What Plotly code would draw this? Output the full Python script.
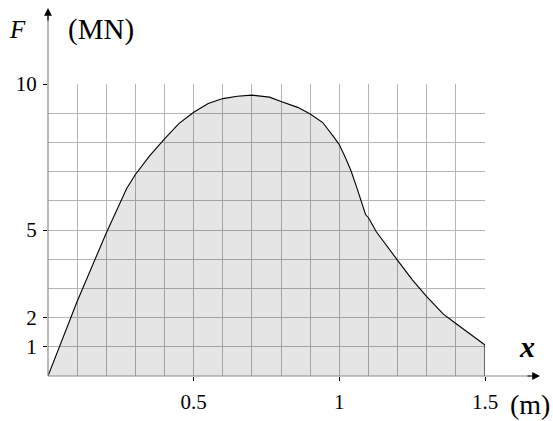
import plotly.graph_objects as go

# Data (x in m, F in MN)
x_m = [0, 0.1, 0.2, 0.24, 0.27, 0.3, 0.348, 0.4, 0.45, 0.5, 0.55, 0.6, 0.65, 0.7,
       0.76, 0.8, 0.857, 0.9, 0.943, 0.982, 1.0, 1.02, 1.04, 1.06, 1.073, 1.09,
       1.1, 1.127, 1.2, 1.25, 1.3, 1.357, 1.4, 1.45, 1.5, 1.5]
F_MN = [0, 2.55, 4.9, 5.8, 6.42, 6.9, 7.53, 8.12, 8.65, 9.03, 9.33, 9.5, 9.58, 9.62,
        9.55, 9.4, 9.2, 8.97, 8.68, 8.17, 7.92, 7.5, 7.03, 6.45, 6.02, 5.53,
        5.42, 4.94, 3.96, 3.3, 2.72, 2.12, 1.8, 1.43, 1.06, 0]

x_tickvals = [0.5, 1, 1.5]
x_ticktext = ["0.5", "1", "1.5"]
y_tickvals = [1, 2, 5, 10]
y_ticktext = ["1", "2", "5", "10"]

FONT = "Liberation Serif"
GRID = "#b4b4b4"
AXIS = "#8a8a8a"

fig = go.Figure()
fig.add_trace(go.Scatter(
    x=x_m, y=F_MN, mode="lines", fill="tozeroy",
    fillcolor="rgba(0,0,0,0.1)",
    line=dict(color="black", width=1.1),
    hoverinfo="skip", showlegend=False,
))

fig.update_layout(
    width=553, height=421,
    margin=dict(l=48, r=68, t=84, b=45, autoexpand=False),
    paper_bgcolor="white", plot_bgcolor="white",
    font=dict(family=FONT, color="black", size=21),
    xaxis=dict(
        range=[0, 1.5], tickvals=x_tickvals, ticktext=x_ticktext,
        ticks="outside", ticklen=4, tickcolor="black", tickwidth=1,
        ticklabelstandoff=3, automargin=False,
        showgrid=True, gridcolor=GRID, gridwidth=1,
        minor=dict(dtick=0.1, showgrid=True, gridcolor=GRID, gridwidth=1, ticks=""),
        zeroline=False, showline=False, fixedrange=True,
        tickfont=dict(family=FONT, size=21),
    ),
    yaxis=dict(
        range=[0, 10], tickvals=y_tickvals, ticktext=y_ticktext,
        ticks="outside", ticklen=4, tickcolor="black", tickwidth=1,
        ticklabelstandoff=2, automargin=False,
        showgrid=True, gridcolor=GRID, gridwidth=1,
        minor=dict(dtick=1, showgrid=True, gridcolor=GRID, gridwidth=1, ticks=""),
        zeroline=False, showline=False, fixedrange=True,
        tickfont=dict(family=FONT, size=21),
    ),
)

# axis lines with arrows (paper coordinates, extending beyond plot area)
x_tip = (540 - 48) / 437.0
y_tip = (376 - 8) / 292.0
fig.add_shape(type="line", xref="paper", yref="paper", x0=0, y0=0, x1=x_tip - 0.02, y1=0,
              line=dict(color=AXIS, width=1.2))
fig.add_shape(type="line", xref="paper", yref="paper", x0=0, y0=0, x1=0, y1=y_tip - 0.03,
              line=dict(color=AXIS, width=1.2))
fig.add_annotation(xref="paper", yref="paper", x=x_tip, y=0, ax=-14, ay=0,
                   text="", showarrow=True, arrowhead=2, arrowsize=1.3,
                   arrowwidth=1.2, arrowcolor="black", standoff=0)
fig.add_annotation(xref="paper", yref="paper", x=0, y=y_tip, ax=0, ay=14,
                   text="", showarrow=True, arrowhead=2, arrowsize=1.3,
                   arrowwidth=1.2, arrowcolor="black", standoff=0)

# axis titles
def px_to_paper(px, py):
    return (px - 48) / 437.0, (376 - py) / 292.0

for txt, (px, py), size in [
    ("<i>F</i>", (17, 29), 25),
    ("(MN)", (101, 30), 29),
    ("<b><i>x</i></b>", (527, 346), 30),
    ("(m)", (530, 404), 28),
]:
    xp, yp = px_to_paper(px, py)
    fig.add_annotation(xref="paper", yref="paper", x=xp, y=yp, text=txt,
                       showarrow=False, xanchor="center", yanchor="middle",
                       font=dict(family=FONT, size=size, color="black"))

fig.write_html("out.html", config={"displayModeBar": False},
               post_script="document.body.style.margin='0';")
